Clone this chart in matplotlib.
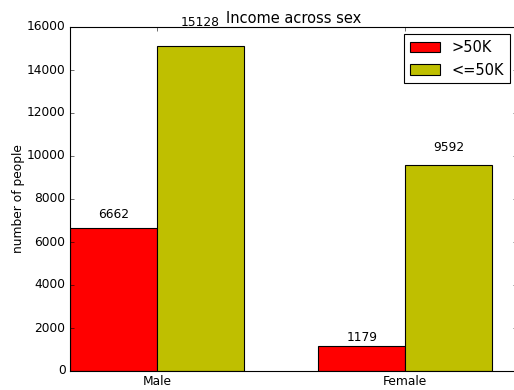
import numpy as np
import matplotlib
matplotlib.use("Agg")
import matplotlib.pyplot as plt

plt.style.use("classic")
plt.rcParams["font.size"] = 11

sexes = ["Male", "Female"]
above_50k = [6662, 1179]
below_50k = [15128, 9592]

ind = np.arange(len(sexes))
width = 0.35

fig = plt.figure(figsize=(514 / 80, 390 / 80), dpi=80)
ax = fig.add_axes([70 / 514, 19 / 390, 447 / 514, 344 / 390])

rects1 = ax.bar(ind, above_50k, width, color="r", align="edge")
rects2 = ax.bar(ind + width, below_50k, width, color="y", align="edge")

ax.set_ylabel("number of people", labelpad=2)
ax.set_title("Income across sex", pad=4)
ax.set_xticks(ind + width)
ax.set_xticklabels(sexes)
ax.set_xlim(0, 1.8)
ax.set_ylim(0, 16000)
ax.legend((rects1[0], rects2[0]), (">50K", "<=50K"), loc="upper right")


def autolabel(rects):
    # put the count just above each bar
    for rect in rects:
        h = rect.get_height()
        ax.text(rect.get_x() + rect.get_width() / 2.0, 1.05 * h,
                "%d" % int(h), ha="center", va="bottom")


autolabel(rects1)
autolabel(rects2)

fig.savefig("out.png", dpi=80)
